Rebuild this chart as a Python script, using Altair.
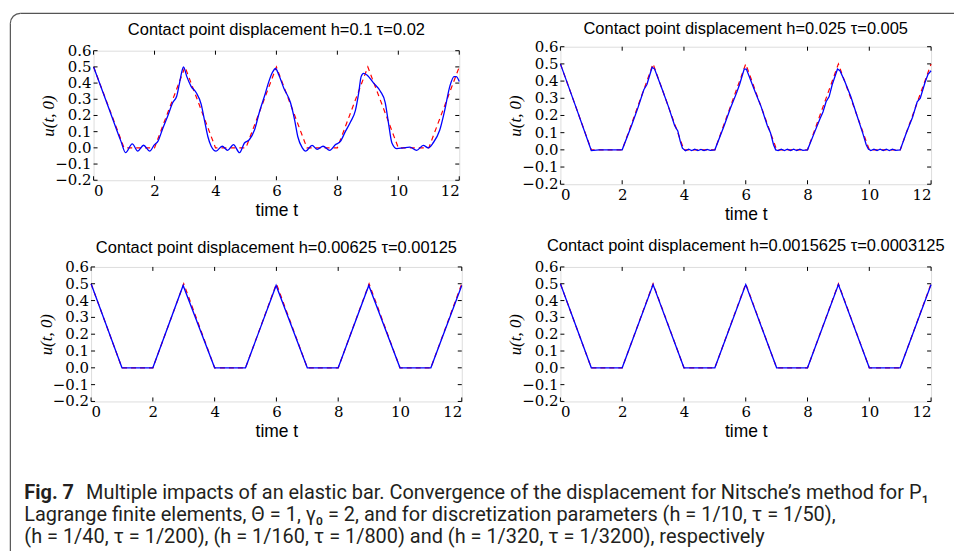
import altair as alt
import pandas as pd

# ---------------- data ----------------
X_TICKS = [0, 2, 4, 6, 8, 10, 12]
Y_TICKS = [-0.2, -0.1, 0.0, 0.1, 0.2, 0.3, 0.4, 0.5, 0.6]
Y_LABELS = ["−0.2", "−0.1", "0.0", "0.1", "0.2", "0.3", "0.4", "0.5", "0.6"]

EXACT_T = [0, 1, 2, 3, 4, 5, 6, 7, 8, 9, 10, 11, 12]
EXACT_U = [0.5, 0, 0, 0.5, 0, 0, 0.5, 0, 0, 0.5, 0, 0, 0.5]

P1_T = [0.0, 0.5, 0.9, 1.05, 1.27, 1.45, 1.64, 1.84, 2.0, 2.11, 2.27, 2.44, 2.6, 2.73, 2.82, 2.91, 2.95,
        3.06, 3.2, 3.37, 3.53, 3.64, 3.75, 3.86, 4.02, 4.22, 4.4, 4.59, 4.79, 4.95,
        5.11, 5.28, 5.44, 5.61, 5.77, 5.88, 5.97, 6.08, 6.24, 6.46, 6.6, 6.7, 6.85, 6.96,
        7.17, 7.34, 7.53, 7.75, 7.94, 8.1, 8.26, 8.43, 8.59, 8.7, 8.78, 8.86, 8.97,
        9.19, 9.41, 9.57, 9.68, 9.79, 9.95, 10.16, 10.38, 10.6, 10.82, 10.98,
        11.14, 11.36, 11.52, 11.69, 11.83, 11.9, 12.0]
P1_U = [0.5, 0.245, 0.04, -0.03, 0.025, -0.02, 0.016, -0.02, 0.02, 0.04, 0.12, 0.2, 0.28, 0.32, 0.4, 0.48, 0.5,
        0.44, 0.38, 0.34, 0.27, 0.17, 0.07, 0.01, -0.02, 0.01, -0.015, 0.02, -0.03, 0.03,
        0.05, 0.11, 0.22, 0.32, 0.42, 0.47, 0.49, 0.45, 0.37, 0.28, 0.17, 0.07, 0.0, -0.02,
        0.015, -0.01, 0.01, -0.015, 0.02, 0.04, 0.1, 0.16, 0.23, 0.34, 0.44, 0.46, 0.45,
        0.4, 0.35, 0.28, 0.15, 0.03, -0.005, 0.0, 0.005, -0.015, 0.015, 0.0,
        0.03, 0.11, 0.23, 0.38, 0.44, 0.44, 0.41]

P2_T = [0.0, 0.5, 1.0, 1.25, 1.5, 1.75, 2.0, 2.3, 2.5, 2.7, 2.8, 2.9, 2.97, 3.05, 3.3, 3.5, 3.7, 3.8, 3.88,
        3.95, 4.05, 4.15, 4.25, 4.35, 4.45, 4.55, 4.65, 4.75, 4.85, 5.0, 5.3, 5.5, 5.7, 5.8, 5.95, 6.02,
        6.3, 6.5, 6.7, 6.8, 6.9, 6.97, 7.05, 7.15, 7.25, 7.35, 7.45, 7.55, 7.65, 7.75, 7.85, 8.0, 8.2,
        8.4, 8.5, 8.6, 8.7, 8.8, 8.97, 9.05, 9.2, 9.4, 9.6, 9.8, 9.9, 9.97, 10.05, 10.15, 10.25, 10.35,
        10.45, 10.55, 10.65, 10.75, 10.85, 11.0, 11.2, 11.4, 11.55, 11.65, 11.8, 11.9, 12.0]
P2_U = [0.5, 0.25, -0.004, 0.0, 0.0, 0.0, 0.0, 0.14, 0.24, 0.35, 0.38, 0.44, 0.48, 0.47, 0.35, 0.25, 0.14,
        0.11, 0.05, 0.01, -0.005, 0.004, -0.004, 0.004, -0.004, 0.003, -0.004, 0.003, -0.003, 0.0, 0.14,
        0.24, 0.33, 0.38, 0.47, 0.47, 0.34, 0.25, 0.14, 0.10, 0.03, 0.0, -0.004, 0.004, -0.004, 0.004,
        -0.004, 0.004, -0.004, 0.004, -0.003, 0.0, 0.09, 0.18, 0.22, 0.28, 0.31, 0.38, 0.47, 0.46, 0.40,
        0.31, 0.20, 0.09, 0.03, 0.005, -0.004, 0.004, -0.004, 0.004, -0.004, 0.004, -0.004, 0.004,
        -0.003, 0.0, 0.1, 0.19, 0.28, 0.30, 0.39, 0.44, 0.46]

P3_T = [0, 1, 2, 2.98, 4, 5, 5.99, 7, 8, 8.99, 10, 11, 12]
P3_U = [0.5, 0, 0, 0.49, 0, 0, 0.49, 0, 0, 0.49, 0, 0, 0.49]

P4_T = [0, 1, 2, 3, 4, 5, 6, 7, 8, 9, 10, 11, 12]
P4_U = [0.5, 0, 0, 0.495, 0, 0, 0.495, 0, 0, 0.495, 0, 0, 0.495]

TITLES = [
    "Contact point displacement h=0.1 τ=0.02",
    "Contact point displacement h=0.025 τ=0.005",
    "Contact point displacement h=0.00625 τ=0.00125",
    "Contact point displacement h=0.0015625 τ=0.0003125",
]

CAPTION_BOLD = "Fig. 7"
CAPTION_LINES = [
    "Multiple impacts of an elastic bar. Convergence of the displacement for Nitsche’s method for P₁",
    "Lagrange finite elements, Θ = 1, γ₀ = 2, and for discretization parameters (h = 1/10, τ = 1/50),",
    "(h = 1/40, τ = 1/200), (h = 1/160, τ = 1/800) and (h = 1/320, τ = 1/3200), respectively",
]

LABEL_FONT = "DejaVu Serif"
LABEL_SIZE = 15
SANS = "Liberation Sans"
CAP_FONT = "Roboto"
CAP_SIZE = 20
CAP_COLOR = "#231f20"
ONE = pd.DataFrame({"k": [0]})


def panel(ts, us, title, w, h, toff, interp):
    xs = alt.Scale(domain=[0, 12], nice=False, zero=False)
    ys = alt.Scale(domain=[-0.2, 0.6], nice=False, zero=False)
    ax_b = alt.Axis(values=X_TICKS, format="d", ticks=False, domain=False, grid=False, labelPadding=3,
                    labelFont=LABEL_FONT, labelFontSize=LABEL_SIZE, labelColor="black",
                    title="time t", titleFont=SANS, titleFontSize=17.5, titleFontWeight="normal",
                    titleColor="black", titlePadding=3)
    ax_l = alt.Axis(values=Y_TICKS, labels=False, ticks=False, domain=False, grid=False,
                    title="u(t, 0)", titleFont="Liberation Serif", titleFontStyle="italic",
                    titleFontSize=17, titleFontWeight="normal", titleColor="black", titlePadding=36)

    exact = pd.DataFrame({"t": EXACT_T, "u": EXACT_U})
    num = pd.DataFrame({"t": ts, "u": us})
    xt = pd.DataFrame({"v": X_TICKS})
    yt = pd.DataFrame({"v": Y_TICKS, "lab": Y_LABELS})

    red = alt.Chart(exact).mark_line(color="#ff0000", strokeDash=[5, 4], strokeWidth=1.2).encode(
        x=alt.X("t:Q", scale=xs, axis=ax_b), y=alt.Y("u:Q", scale=ys, axis=ax_l))
    blue = alt.Chart(num).mark_line(color="#0000ff", strokeWidth=1.3, interpolate=interp).encode(
        x=alt.X("t:Q", scale=xs), y=alt.Y("u:Q", scale=ys))
    # y tick labels (placed through the y scale)
    ylab = alt.Chart(yt).mark_text(font=LABEL_FONT, fontSize=LABEL_SIZE, color="black", align="right",
                                   baseline="middle").encode(
        y=alt.Y("v:Q", scale=ys), x=alt.value(-2), text="lab:N")
    # inward tick marks on all four sides
    tk = dict(color="black", strokeWidth=1)
    yl = alt.Chart(yt).mark_rule(**tk).encode(y=alt.Y("v:Q", scale=ys), x=alt.value(0), x2=alt.value(4))
    yr = alt.Chart(yt).mark_rule(**tk).encode(y=alt.Y("v:Q", scale=ys), x=alt.value(w - 4), x2=alt.value(w))
    xb = alt.Chart(xt).mark_rule(**tk).encode(x=alt.X("v:Q", scale=xs), y=alt.value(h - 4), y2=alt.value(h))
    xtp = alt.Chart(xt).mark_rule(**tk).encode(x=alt.X("v:Q", scale=xs), y=alt.value(0), y2=alt.value(4))
    return alt.layer(red, blue, ylab, yl, yr, xb, xtp).properties(
        width=w, height=h,
        title=alt.TitleParams(title, font=SANS, fontSize=16.5, fontWeight="normal", color="black",
                              offset=toff, anchor="middle", frame="group"))


# caption cell (origin at page x=89, y=482), with the decorative rounded frame
BORDER = "#555555"
frame_left = alt.Chart(ONE).mark_rule(color=BORDER, strokeWidth=1.2).encode(
    x=alt.value(-81), y=alt.value(-462.5), y2=alt.value(68))
frame_top = alt.Chart(ONE).mark_rule(color=BORDER, strokeWidth=1.2).encode(
    x=alt.value(-71), x2=alt.value(866), y=alt.value(-472.5))
frame_corner = alt.Chart(ONE).mark_arc(
    theta=4.71239, theta2=6.28319, radius=10, radius2=10,
    fill="transparent", stroke=BORDER, strokeWidth=1.2).encode(
    x=alt.value(-71), y=alt.value(-462.5))

cap_layers = [alt.Chart(ONE).mark_text(font=CAP_FONT, fontSize=CAP_SIZE, fontWeight="bold", color=CAP_COLOR,
                                       align="left", baseline="alphabetic").encode(
    x=alt.value(-67), y=alt.value(15), text=alt.value(CAPTION_BOLD))]
for i, (cx, cy) in enumerate([(-5, 15), (-67, 37), (-67, 59)]):
    cap_layers.append(
        alt.Chart(ONE).mark_text(font=CAP_FONT, fontSize=CAP_SIZE, color=CAP_COLOR,
                                 align="left", baseline="alphabetic").encode(
            x=alt.value(cx), y=alt.value(cy), text=alt.value(CAPTION_LINES[i])))

caption = alt.layer(frame_left, frame_top, frame_corner, *cap_layers).properties(
    width=372, height=60, view=alt.ViewBackground(stroke="transparent"))

p1 = panel(P1_T, P1_U, TITLES[0], 367, 130, 5, "monotone")
p2 = panel(P2_T, P2_U, TITLES[1], 372, 138, 2, "linear")
p3 = panel(P3_T, P3_U, TITLES[2], 372, 135, 3, "linear")
p4 = panel(P4_T, P4_U, TITLES[3], 372, 135, 5, "linear")

chart = alt.concat(p1, p2, p3, p4, caption, columns=2, spacing={"row": 83, "column": 99},
                   bounds="flush", center=True, align="each").properties(
    padding={"left": 7.4, "top": 8.9, "right": 0, "bottom": 0}
).configure_view(stroke="black", strokeWidth=1).configure(background="white")

chart.save("out.html", embed_options={"renderer": "svg", "actions": False})
